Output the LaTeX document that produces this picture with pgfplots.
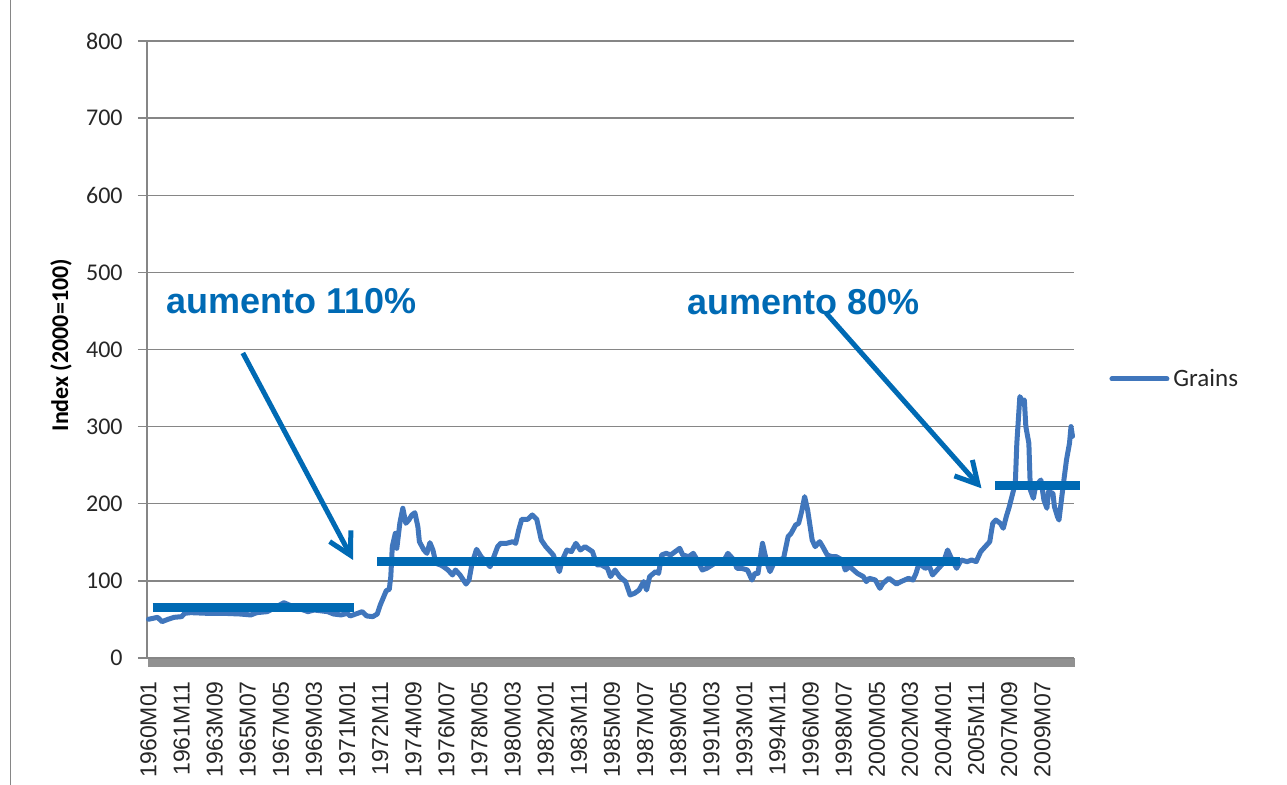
\documentclass[border=0pt]{standalone}
\usepackage{fontspec}
\setmainfont{Carlito}
\newfontfamily\arialfont{Liberation Sans}
\usepackage{pgfplots}
\pgfplotsset{compat=1.18}
\usetikzlibrary{arrows.meta}
\definecolor{serblue}{RGB}{64,118,188}
\definecolor{annblue}{RGB}{0,106,180}
\definecolor{gridgray}{RGB}{134,134,134}
\definecolor{tickgray}{RGB}{145,145,145}
\begin{document}
\begin{tikzpicture}
\path[use as bounding box] (0pt,0pt) rectangle (643.5pt,392.5pt);
\draw[gridgray, line width=0.6pt] (5.25pt,0pt) -- (5.25pt,392.5pt);
\begin{axis}[
  at={(73.5pt,63.5pt)}, anchor=south west,
  scale only axis, width=463.5pt, height=308.5pt,
  xmin=-1, xmax=615, ymin=0, ymax=800,
  axis lines*=left,
  axis line style={draw=gridgray, line width=0.65pt},
  tick align=outside,
  major tick length=4.5pt, minor tick length=4.5pt,
  ytick={0,100,...,800},
  ymajorgrids, grid style={gridgray, line width=0.65pt},
  y tick style={gridgray, line width=0.65pt},
  xtick={0,22,...,616},
  minor x tick num=21,
  x tick style={tickgray, line width=0.78pt},
  minor x tick style={tickgray, line width=0.78pt},
  xticklabels={1960M01,1961M11,1963M09,1965M07,1967M05,1969M03,1971M01,1972M11,1974M09,1976M07,1978M05,1980M03,1982M01,1983M11,1985M09,1987M07,1989M05,1991M03,1993M01,1994M11,1996M09,1998M07,2000M05,2002M03,2004M01,2005M11,2007M09,2009M07},
  xticklabel style={rotate=90, anchor=east, font=\arialfont\fontsize{11.5}{13}\selectfont, inner sep=0pt, text=black!85, xshift=-7pt},
  /pgf/number format/assume math mode=true,
  yticklabel style={font=\fontsize{12}{14}\selectfont, inner sep=0pt, text=black!85, xshift=-7.5pt},
  ylabel={\bfseries Index (2000=100)},
  ylabel style={at={(axis description cs:-0.0928,0.507)}, anchor=center, font=\fontsize{12}{14}\selectfont},
  clip=false,
  legend style={at={(axis description cs:1.0378,0.4522)}, anchor=west, draw=none, fill=none, inner sep=0pt, font=\fontsize{12.5}{14}\selectfont, text=black!85},
  legend cell align=left,
  legend image code/.code={\draw[#1] (0pt,0pt) -- (27.5pt,0pt);},
]
\addplot[serblue, line width=2.5pt, line join=round, line cap=round] coordinates {
(0,50.2) (6,52.7) (9,47.1) (13,50.2) (17,52.7) (22,53.6) (24,57.9) (28,58.8) (39,57.9) (50,57.9) (61,57) (68,55.8) (72,58.8) (79,60.1) (90,71.7) (95,67.4) (106,60.1) (110,62.2) (119,60.1) (123,57) (128,55.8) (132,57.9) (134,54.5) (139,57.9) (142,60.1) (145,54.5) (149,53.6) (152,57) (154,68.7) (158,87.3) (160,89) (161,105.5) (162,144.4) (164,161.6) (165,142.2) (167,174.6) (169,194.1) (171,174.6) (173,178.9) (175,185.4) (177,188.4) (179,170.3) (180,150.8) (183,140) (185,135.7) (187,149.5) (189,140) (191,122.7) (194,120.6) (196,118.4) (199,114.1) (202,107.6) (204,114.1) (207,107.6) (211,95.9) (213,101.1) (215,122.7) (218,140.9) (221,131.4) (225,122.7) (227,118.4) (232,144.4) (234,148.7) (238,148.7) (242,150.8) (244,148.7) (246,166) (248,179.8) (252,179.8) (255,185.4) (258,179.8)
(261,153) (264,144.4) (267,137.9) (269,133.6) (273,112) (275,127.1) (278,140) (281,137.9) (284,148.7) (287,140) (290,144.4) (295,137.9) (298,120.6) (301,120.6) (305,116.3) (307,105.5) (310,114.1) (313,105.5) (317,99) (320,81.7) (323,83.9) (326,88.2) (329,99) (331,88.2) (333,105.5) (337,112) (339,109.8) (341,133.6) (344,135.7) (347,133.6) (350,137.9) (353,142.2) (355,133.6) (359,131.4) (362,135.7) (364,129.2) (368,114.1) (371,116.3) (378,124.9) (382,124.9) (385,135.7) (389,127.1) (391,116.3) (394,116.3) (398,114.1) (401,101.1) (403,109.8) (405,109.8) (408,148.7) (411,122.7) (413,112) (416,124.9) (422,129.2) (425,157.3) (427,161.6) (430,172.4) (432,174.6) (434,189.7) (436,209.2) (438,191.9) (441,153) (443,144.4) (446,150.8) (448,144.4) (451,133.6) (454,131.4) (457,131.4) (461,127.1) (463,114.1) (466,118.4) (471,109.8) (475,105.5) (477,99) (479,103.3) (483,101.1) (486,90.3) (488,96.8) (492,103.3) (495,99) (497,95.9) (500,99) (505,103.3) (508,101.1) (510,109.8) (512,122.7) (516,116.3) (519,118.4) (521,107.6) (525,116.3) (528,122.7) (531,140) (534,127.1) (537,116.3) (540,127.1) (544,124.9) (547,127.1) (550,124.9) (553,137.9) (557,146.5) (559,150.8) (561,174.6) (563,178.9) (566,174.6) (568,168.2) (570,183.3) (572,196.2) (574,211.4) (576,226.5) (577,278.4) (579,338.9) (581,332.4) (582,334.6) (583,300) (585,278.4) (586,217.9) (588,207.1) (589,217.9) (591,226.5) (593,230.8) (595,204.9) (597,194.1) (598,215.7) (601,213.5) (602,196.2) (604,183.3) (605,178.9) (608,226.5) (610,256.8) (612,278.4) (613,300) (614,287.4)
};
\addlegendentry{Grains}
\addplot[annblue, line width=4.5pt, forget plot] coordinates {(2.8,65.7) (136.6,65.7)};
\addplot[annblue, line width=4.5pt, forget plot] coordinates {(152.1,124.9) (539.1,124.9)};
\addplot[annblue, line width=4.5pt, forget plot] coordinates {(562.8,223.4) (619.2,223.4)};
\addplot[annblue, line width=2.5pt, -{Straight Barb[length=11pt,width=12pt]}, forget plot] coordinates {(62.7,395.5) (135.9,127.1)};
\addplot[annblue, line width=2.5pt, -{Straight Barb[length=11pt,width=12pt]}, forget plot] coordinates {(450.2,447.3) (553.5,220)};
\node[anchor=base west, inner sep=0pt, text=annblue, font=\arialfont\bfseries\fontsize{18}{20}\selectfont] at (axis cs:11.6,447) {aumento 110\%};
\node[anchor=base west, inner sep=0pt, text=annblue, font=\arialfont\bfseries\fontsize{18}{20}\selectfont] at (axis cs:357.8,446) {aumento 80\%};
\end{axis}
\end{tikzpicture}
\end{document}
